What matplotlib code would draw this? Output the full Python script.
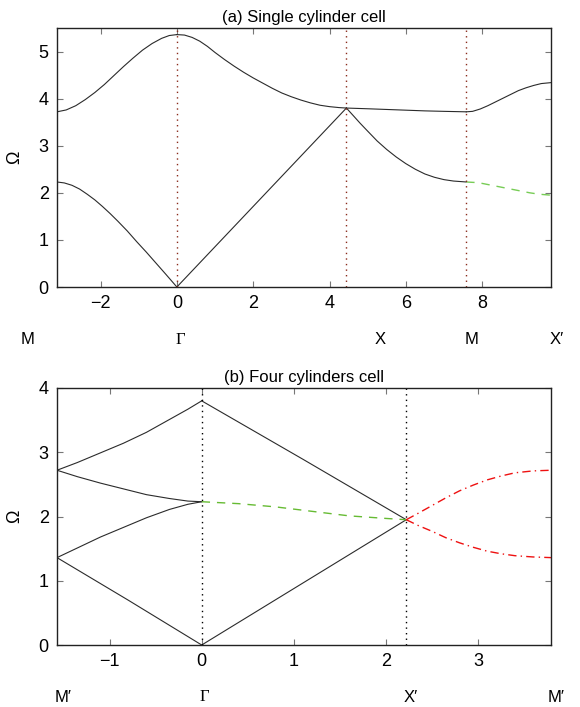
import numpy as np
import matplotlib
matplotlib.use('Agg')
import matplotlib.pyplot as plt

plt.rcParams['font.family'] = ['Liberation Sans', 'DejaVu Sans']

# ---- (a) single cylinder cell: symmetry points and bands ----
a_sym_x = [0.0, 4.443, 7.584]            # Gamma, X, M
a_xlim = [-3.1416, 9.805]

a_up1_x = [-3.1416, -2.9, -2.65, -2.4, -2.15, -1.9, -1.65, -1.4, -1.15,
           -0.9, -0.65, -0.4, -0.2, 0.0]
a_up1_y = [3.72, 3.76, 3.85, 3.98, 4.13, 4.30, 4.49, 4.68, 4.86,
           5.03, 5.17, 5.28, 5.34, 5.36]
a_up2_x = [0.0, 0.2, 0.4, 0.6, 0.8, 1.0, 1.25, 1.5, 1.75, 2.0, 2.25, 2.5,
           2.75, 3.0, 3.25, 3.5, 3.75, 4.0, 4.25, 4.443]
a_up2_y = [5.36, 5.35, 5.30, 5.22, 5.11, 4.98, 4.83, 4.69, 4.56, 4.44, 4.33,
           4.22, 4.12, 4.04, 3.97, 3.91, 3.86, 3.83, 3.81, 3.80]
a_up3_x = [4.443, 5.0, 5.5, 6.0, 6.5, 7.0, 7.584]
a_up3_y = [3.80, 3.785, 3.77, 3.755, 3.74, 3.73, 3.72]
a_up4_x = [7.584, 7.75, 7.95, 8.15, 8.35, 8.55, 8.75, 8.95, 9.15, 9.35,
           9.55, 9.805]
a_up4_y = [3.72, 3.73, 3.78, 3.85, 3.93, 4.01, 4.09, 4.17, 4.23, 4.28,
           4.32, 4.34]

a_lo1_x = [-3.1416, -2.95, -2.75, -2.55, -2.35, -2.15, -1.95, -1.75, -1.55,
           -1.3, -1.05, -0.8, -0.55, -0.3, 0.0]
a_lo1_y = [2.23, 2.21, 2.16, 2.08, 1.97, 1.85, 1.71, 1.56, 1.40,
           1.19, 0.96, 0.74, 0.51, 0.28, 0.0]
a_lo2_x = [0.0, 4.443]
a_lo2_y = [0.0, 3.80]
a_lo3_x = [4.443, 4.6, 4.8, 5.0, 5.25, 5.5, 5.75, 6.0, 6.25, 6.5, 6.75,
           7.0, 7.25, 7.584]
a_lo3_y = [3.80, 3.66, 3.48, 3.31, 3.10, 2.92, 2.76, 2.62, 2.50, 2.40, 2.33,
           2.28, 2.25, 2.23]
a_gr_x = [7.584, 7.8, 8.0, 8.25, 8.5, 8.75, 9.0, 9.25, 9.5, 9.805]
a_gr_y = [2.23, 2.22, 2.20, 2.16, 2.12, 2.08, 2.04, 2.00, 1.97, 1.95]

a_labels = ['M', '\u0393', 'X', 'M', 'X\u2032']

# ---- (b) four cylinders cell ----
b_sym_x = [0.0, 2.221]                   # Gamma, X'
b_xlim = [-1.5708, 3.792]

b_c1_x = [-1.5708, -1.35, -1.1, -0.85, -0.6, -0.35, -0.15, 0.0]
b_c1_y = [2.72, 2.84, 2.99, 3.14, 3.31, 3.51, 3.67, 3.80]
b_c2_x = [-1.5708, -1.35, -1.1, -0.85, -0.6, -0.35, -0.15, 0.0]
b_c2_y = [2.72, 2.62, 2.52, 2.43, 2.34, 2.28, 2.24, 2.23]
b_c3_x = [-1.5708, -1.35, -1.1, -0.85, -0.6, -0.35, -0.15, 0.0]
b_c3_y = [1.36, 1.51, 1.68, 1.83, 1.98, 2.11, 2.19, 2.23]
b_c4_x = [-1.5708, -0.8, 0.0]
b_c4_y = [1.36, 0.70, 0.0]
b_c5_x = [0.0, 1.1, 2.221]
b_c5_y = [3.80, 2.89, 1.95]
b_c6_x = [0.0, 2.221]
b_c6_y = [0.0, 1.95]
b_gr_x = [0.0, 0.4, 0.8, 1.2, 1.6, 2.0, 2.221]
b_gr_y = [2.23, 2.20, 2.15, 2.08, 2.01, 1.97, 1.95]
b_rd1_x = [2.221, 2.35, 2.5, 2.65, 2.8, 2.95, 3.1, 3.25, 3.4, 3.6, 3.792]
b_rd1_y = [1.95, 2.05, 2.17, 2.29, 2.40, 2.49, 2.57, 2.63, 2.68, 2.71, 2.72]
b_rd2_x = [2.221, 2.35, 2.5, 2.65, 2.8, 2.95, 3.1, 3.25, 3.4, 3.6, 3.792]
b_rd2_y = [1.95, 1.86, 1.77, 1.67, 1.59, 1.52, 1.46, 1.42, 1.39, 1.37, 1.36]

b_labels = ['M\u2032', '\u0393', 'X\u2032', 'M\u2032']

W, H = 580, 707
fig = plt.figure(figsize=(W / 100, H / 100), dpi=100)

ax1 = fig.add_axes([57 / W, 1 - 287 / H, 494 / W, 259 / H])
ax2 = fig.add_axes([57 / W, 1 - 645 / H, 494 / W, 257 / H])

line_c = '#2b2b2b'
lw = 0.8

def style(ax):
    ax.tick_params(direction='in', top=True, right=True, length=4,
                   width=0.8, color='#777777', labelsize=13, pad=6)
    for s in ax.spines.values():
        s.set_linewidth(1.0)
        s.set_color('#222222')

# (a)
for xs, ys in [(a_up1_x, a_up1_y), (a_up2_x, a_up2_y), (a_up3_x, a_up3_y),
               (a_up4_x, a_up4_y), (a_lo1_x, a_lo1_y), (a_lo2_x, a_lo2_y),
               (a_lo3_x, a_lo3_y)]:
    ax1.plot(xs, ys, color=line_c, lw=lw)
ax1.plot(a_gr_x, a_gr_y, color='#77cc55', lw=1.0, dashes=(6, 5))
for xv in a_sym_x:
    ax1.axvline(xv, color='#8a2a1a', lw=1.0, ls=(0, (1, 3)))
ax1.set_xlim(a_xlim)
ax1.set_ylim(0, 5.5)
ax1.set_xticks([-2, 0, 2, 4, 6, 8])
ax1.set_yticks([0, 1, 2, 3, 4, 5])
style(ax1)
ax1.set_ylabel('\u03a9', fontsize=13)
ax1.yaxis.set_label_coords(-0.069, 0.5)
ax1.set_title('(a) Single cylinder cell', fontsize=12, pad=4)

# (b)
for xs, ys in [(b_c1_x, b_c1_y), (b_c2_x, b_c2_y), (b_c3_x, b_c3_y),
               (b_c4_x, b_c4_y), (b_c5_x, b_c5_y), (b_c6_x, b_c6_y)]:
    ax2.plot(xs, ys, color=line_c, lw=lw)
ax2.plot(b_gr_x, b_gr_y, color='#66bb33', lw=1.0, dashes=(6, 5))
ax2.plot(b_rd1_x, b_rd1_y, color='#ee1111', lw=1.0, dashes=(6, 3, 1, 3))
ax2.plot(b_rd2_x, b_rd2_y, color='#ee1111', lw=1.0, dashes=(6, 3, 1, 3))
for xv in b_sym_x:
    ax2.axvline(xv, color='black', lw=1.0, ls=(0, (1, 3)))
ax2.set_xlim(b_xlim)
ax2.set_ylim(0, 4)
ax2.set_xticks([-1, 0, 1, 2, 3])
ax2.set_yticks([0, 1, 2, 3, 4])
style(ax2)
ax2.set_ylabel('\u03a9', fontsize=13)
ax2.yaxis.set_label_coords(-0.069, 0.5)
ax2.set_title('(b) Four cylinders cell', fontsize=12, pad=4)

# symmetry point labels under each axis
a_lab_px = [28, 180, 380, 472, 557]
for px, lab in zip(a_lab_px, a_labels):
    fam = ['Liberation Serif'] if lab == '\u0393' else ['Liberation Sans', 'DejaVu Sans']
    fig.text(px / W, 1 - 340 / H, lab, ha='center', va='center',
             fontsize=12, family=fam)
b_lab_px = [63, 204, 411, 556]
for px, lab in zip(b_lab_px, b_labels):
    fam = ['Liberation Serif'] if lab == '\u0393' else ['Liberation Sans', 'DejaVu Sans']
    fig.text(px / W, 1 - 697 / H, lab, ha='center', va='center',
             fontsize=12, family=fam)

fig.savefig('out.png', dpi=100)
